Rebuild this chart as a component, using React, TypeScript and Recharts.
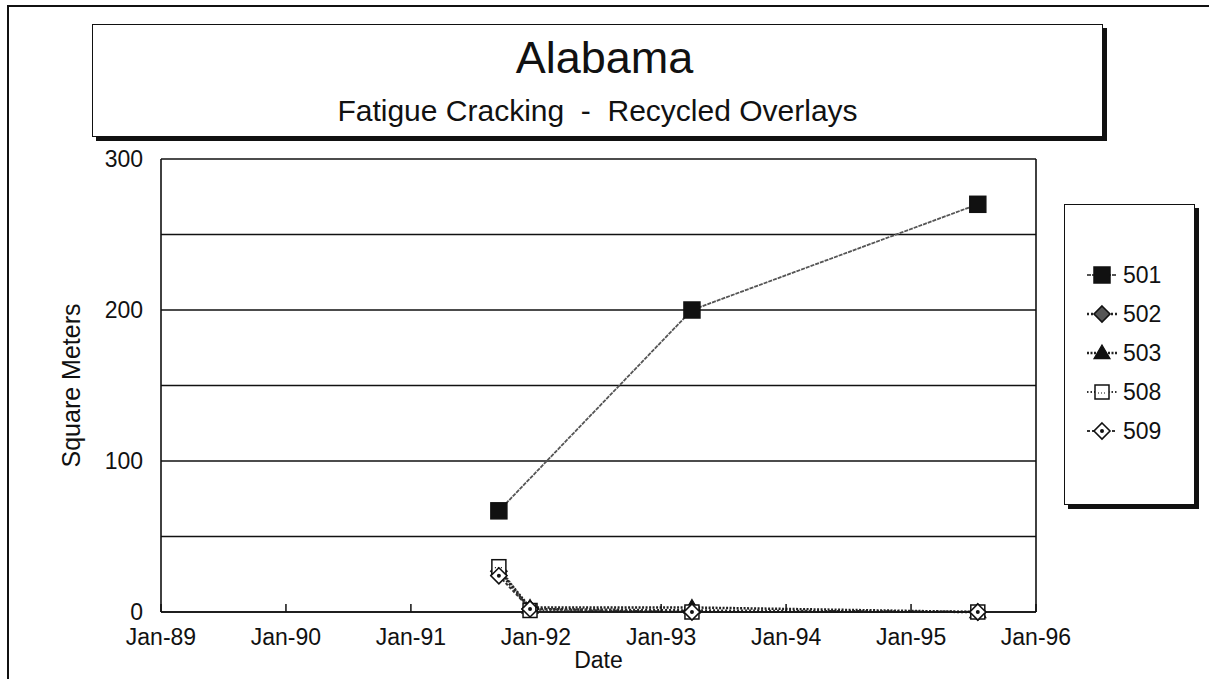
import { LineChart, Line, XAxis, YAxis, CartesianGrid, ReferenceLine } from 'recharts'

const surveyDates = ['1991-09-15', '1991-12-15', '1993-04-01', '1995-07-15']
const s501 = [67, null, 200, 270]
const s502 = [27, 2, 1, 0]
const s503 = [28, 3, 3, 0]
const s508 = [30, 1, 0, 0]
const s509 = [24, 2, 0, 0]
const tickYears = [1989, 1990, 1991, 1992, 1993, 1994, 1995, 1996]
const yTickLabels = [0, 100, 200, 300]
const gridValues = [0, 50, 100, 150, 200, 250, 300]

const FONT = '"Liberation Sans", Arial, sans-serif'
const INK = '#111'

const toTime = (d: string) => new Date(d + 'T00:00:00Z').getTime()
const build = (vals: (number | null)[]) =>
  surveyDates
    .map((d, i) => ({ date: toTime(d), value: vals[i] }))
    .filter(p => p.value !== null)

const xTicks = tickYears.map(y => Date.UTC(y, 0, 1))

type DotProps = { cx?: number; cy?: number }

// markers: only the position is taken from recharts, the look is fixed here
function SquareDot({ cx = 0, cy = 0 }: DotProps) {
  return <rect x={cx - 8} y={cy - 8} width={16} height={16} fill={INK} stroke={INK} strokeWidth={1.5} />
}

function DiamondDot({ cx = 0, cy = 0, open = false }: DotProps & { open?: boolean }) {
  const r = 8
  return (
    <g>
      <path d={`M${cx},${cy - r}L${cx + r},${cy}L${cx},${cy + r}L${cx - r},${cy}Z`} fill={open ? '#fff' : '#555'} stroke={INK} strokeWidth={1.6} />
      {open && <circle cx={cx} cy={cy} r={2} fill={INK} />}
    </g>
  )
}

function TriangleDot({ cx = 0, cy = 0 }: DotProps) {
  const r = 8
  return <path d={`M${cx},${cy - r}L${cx + r},${cy + r * 0.7}L${cx - r},${cy + r * 0.7}Z`} fill={INK} stroke={INK} strokeWidth={1.2} />
}

function OpenSquareDot({ cx = 0, cy = 0 }: DotProps) {
  return (
    <g>
      <rect x={cx - 7} y={cy - 7} width={14} height={14} fill="#fff" stroke={INK} strokeWidth={1.5} />
      <line x1={cx - 4} y1={cy + 1} x2={cx + 4} y2={cy + 1} stroke={INK} strokeWidth={1.2} strokeDasharray="1 2" />
    </g>
  )
}

const series = [
  { key: '501', data: build(s501), stroke: '#555', width: 1.8, dash: '4 1', dot: (p: DotProps) => <SquareDot key={`${p.cx}-${p.cy}`} cx={p.cx} cy={p.cy} /> },
  { key: '502', data: build(s502), stroke: '#222', width: 2.5, dash: '2 2', dot: (p: DotProps) => <DiamondDot key={`${p.cx}-${p.cy}`} cx={p.cx} cy={p.cy} /> },
  { key: '503', data: build(s503), stroke: '#222', width: 2.5, dash: '2 1.5', dot: (p: DotProps) => <TriangleDot key={`${p.cx}-${p.cy}`} cx={p.cx} cy={p.cy} /> },
  { key: '508', data: build(s508), stroke: '#333', width: 2, dash: '1.5 2', dot: (p: DotProps) => <OpenSquareDot key={`${p.cx}-${p.cy}`} cx={p.cx} cy={p.cy} /> },
  { key: '509', data: build(s509), stroke: '#333', width: 2, dash: '3 2', dot: (p: DotProps) => <DiamondDot key={`${p.cx}-${p.cy}`} cx={p.cx} cy={p.cy} open /> },
]

function XTick({ x = 0, y = 0, payload }: { x?: number; y?: number; payload?: { value: number } }) {
  const yr = new Date(payload?.value ?? 0).getUTCFullYear()
  return (
    <g>
      <line x1={x} y1={y} x2={x} y2={y - 8} stroke={INK} strokeWidth={1.5} />
      <text x={x} y={y + 33} textAnchor="middle" fontSize={23} fontFamily={FONT} fill={INK}>
        {`Jan-${String(yr).slice(2)}`}
      </text>
    </g>
  )
}

function LegendBox() {
  return (
    <div
      style={{
        position: 'absolute',
        left: 1064,
        top: 204,
        width: 131,
        height: 301,
        boxSizing: 'border-box',
        border: `1.5px solid ${INK}`,
        boxShadow: `4px 4px 0 ${INK}`,
        background: '#fff',
        fontFamily: FONT,
        color: INK,
      }}
    >
      {series.map((s, i) => (
        <div key={s.key} style={{ position: 'absolute', left: 20, top: 57 + i * 39, height: 26, display: 'flex', alignItems: 'center' }}>
          <svg width={34} height={26}>
            <line x1={2} y1={13} x2={32} y2={13} stroke={s.stroke} strokeWidth={s.width} strokeDasharray={s.dash} />
            {s.dot({ cx: 17, cy: 13 })}
          </svg>
          <span style={{ fontSize: 23, marginLeft: 4 }}>{s.key}</span>
        </div>
      ))}
    </div>
  )
}

export default function App() {
  return (
    <div style={{ position: 'relative', width: 1209, height: 679, background: '#fff', overflow: 'hidden' }}>
      <style>{'html,body{margin:0;overflow:hidden}'}</style>
      {/* page frame: only top and left edges show in the scan */}
      <div style={{ position: 'absolute', left: 7, top: 5, width: 1202, height: 2, background: INK }} />
      <div style={{ position: 'absolute', left: 7, top: 5, width: 2, height: 674, background: INK }} />
      <div
        style={{
          position: 'absolute',
          left: 92,
          top: 24,
          width: 1011,
          height: 113,
          boxSizing: 'border-box',
          border: `1.5px solid ${INK}`,
          boxShadow: `4px 4px 0 ${INK}`,
          background: '#fff',
          fontFamily: FONT,
          color: INK,
          textAlign: 'center',
        }}
      >
        <div style={{ position: 'absolute', left: 14, right: 0, top: 8, fontSize: 45, lineHeight: '50px' }}>Alabama</div>
        <div style={{ position: 'absolute', left: 0, right: 0, top: 68, fontSize: 30, lineHeight: '36px', whiteSpace: 'pre' }}>
          {'Fatigue Cracking  -  Recycled Overlays'}
        </div>
      </div>
      <LineChart width={1209} height={679} margin={{ top: 159, right: 173, bottom: 0, left: 81 }} style={{ position: 'absolute', left: 0, top: 0 }}>
        <CartesianGrid horizontal vertical={false} horizontalValues={gridValues} stroke={INK} strokeWidth={1.6} />
        <XAxis
          type="number"
          dataKey="date"
          domain={[xTicks[0], xTicks[xTicks.length - 1]]}
          ticks={xTicks}
          tick={<XTick />}
          tickSize={0}
          tickMargin={0}
          tickLine={false}
          height={67}
          axisLine={{ stroke: INK, strokeWidth: 1.6 }}
          allowDuplicatedCategory={false}
          label={{
            content: (p: { viewBox?: { x: number; y: number; width: number } }) => {
              const vb = p.viewBox ?? { x: 0, y: 0, width: 0 }
              return (
                <text x={vb.x + vb.width / 2} y={vb.y + 56} textAnchor="middle" fontSize={23} fontFamily={FONT} fill={INK}>
                  Date
                </text>
              )
            },
          }}
        />
        <YAxis
          type="number"
          domain={[0, 300]}
          ticks={yTickLabels}
          width={80}
          tickSize={0}
          tickMargin={18}
          tickLine={false}
          axisLine={{ stroke: INK, strokeWidth: 1.6 }}
          tick={{ fontSize: 23, fontFamily: FONT, fill: INK }}
          label={{
            content: (p: { viewBox?: { x: number; y: number; height: number } }) => {
              const vb = p.viewBox ?? { x: 0, y: 0, height: 0 }
              const cx = vb.x - 1
              const cy = vb.y + vb.height / 2
              return (
                <text x={cx} y={cy} transform={`rotate(-90 ${cx} ${cy})`} textAnchor="middle" fontSize={25} fontFamily={FONT} fill={INK}>
                  Square Meters
                </text>
              )
            },
          }}
        />
        <ReferenceLine x={xTicks[xTicks.length - 1]} stroke={INK} strokeWidth={1.6} />
        {series.map(s => (
          <Line
            key={s.key}
            data={s.data}
            dataKey="value"
            name={s.key}
            stroke={s.stroke}
            strokeWidth={s.width}
            strokeDasharray={s.dash}
            dot={s.dot}
            activeDot={false}
            isAnimationActive={false}
          />
        ))}
      </LineChart>
      <LegendBox />
    </div>
  )
}
